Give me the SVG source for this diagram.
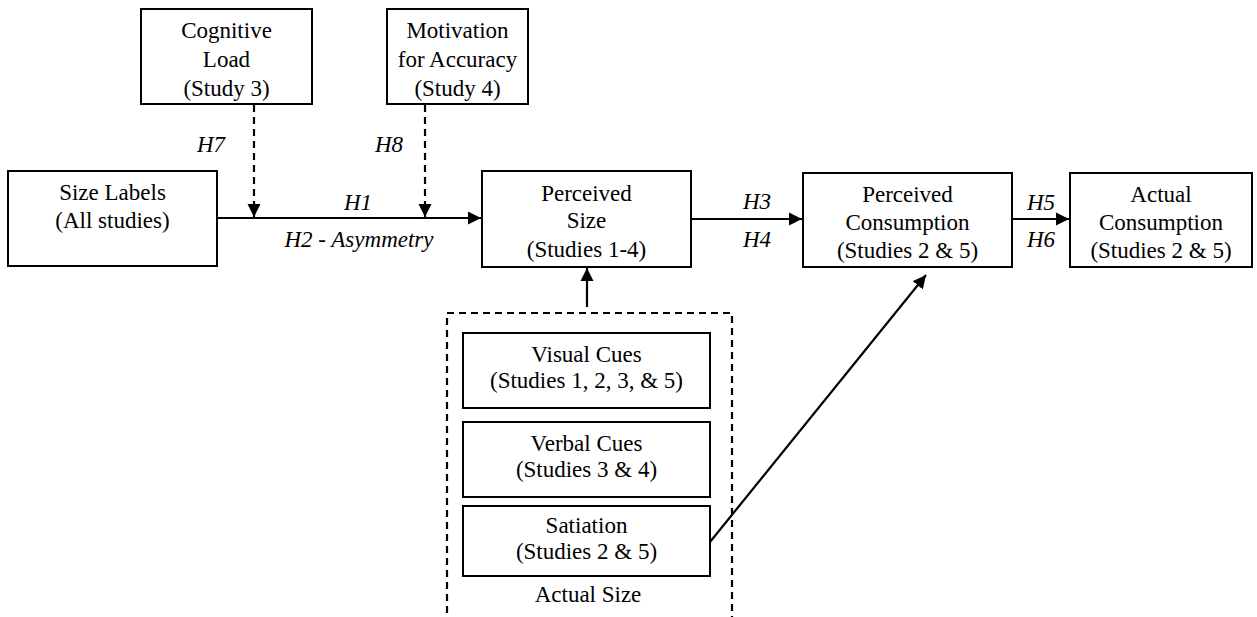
<svg xmlns="http://www.w3.org/2000/svg" width="1257" height="617" viewBox="0 0 1257 617">
<defs>
<style>
.box{fill:#fff;stroke:#000;stroke-width:2}
.t{font-family:"Liberation Serif","Times New Roman",serif;font-size:23px;fill:#000;text-anchor:middle}
.i{font-family:"Liberation Serif","Times New Roman",serif;font-size:23px;font-style:italic;fill:#000;text-anchor:middle}
.ln{stroke:#000;stroke-width:2.2;fill:none}
.dash{stroke:#000;stroke-width:2.2;fill:none;stroke-dasharray:7,5}
</style>
<marker id="ah" viewBox="0 0 10 10" refX="10" refY="5" markerWidth="6" markerHeight="6" markerUnits="strokeWidth" orient="auto">
<path d="M0,0 L10,5 L0,10 z" fill="#000"/>
</marker>
</defs>
<rect width="1257" height="617" fill="#fff"/>
<g id="connectors">
<line class="ln" x1="217" y1="218" x2="481" y2="218" marker-end="url(#ah)"/>
<line class="dash" x1="254" y1="105" x2="254" y2="217" marker-end="url(#ah)"/>
<line class="dash" x1="425" y1="105" x2="425" y2="217" marker-end="url(#ah)"/>
<line class="ln" x1="691" y1="219" x2="802" y2="219" marker-end="url(#ah)"/>
<line class="ln" x1="1012" y1="219" x2="1069" y2="219" marker-end="url(#ah)"/>
<line class="ln" x1="587" y1="307" x2="587" y2="268" marker-end="url(#ah)"/>
<line class="ln" x1="710" y1="542" x2="926" y2="275" marker-end="url(#ah)"/>
<text class="i" x="211" y="152">H7</text>
<text class="i" x="389" y="152">H8</text>
<text class="i" x="358" y="210">H1</text>
<text class="i" x="359" y="247">H2 - Asymmetry</text>
<text class="i" x="757" y="209">H3</text>
<text class="i" x="757" y="247">H4</text>
<text class="i" x="1041" y="210">H5</text>
<text class="i" x="1041" y="247">H6</text>
</g>
<g id="cognitive-load">
<rect class="box" x="141" y="9" width="171" height="95"/>
<text class="t" x="226.5" y="38">Cognitive</text>
<text class="t" x="226.5" y="67">Load</text>
<text class="t" x="226.5" y="96">(Study 3)</text>
</g>
<g id="motivation">
<rect class="box" x="387" y="9" width="141" height="95"/>
<text class="t" x="457.5" y="38">Motivation</text>
<text class="t" x="457.5" y="67">for Accuracy</text>
<text class="t" x="457.5" y="96">(Study 4)</text>
</g>
<g id="size-labels">
<rect class="box" x="8" y="171" width="209" height="95"/>
<text class="t" x="112.5" y="200">Size Labels</text>
<text class="t" x="112.5" y="228">(All studies)</text>
</g>
<g id="perceived-size">
<rect class="box" x="482" y="171" width="209" height="96"/>
<text class="t" x="586.5" y="201">Perceived</text>
<text class="t" x="586.5" y="228">Size</text>
<text class="t" x="586.5" y="257">(Studies 1-4)</text>
</g>
<g id="perceived-consumption">
<rect class="box" x="803" y="173" width="209" height="94"/>
<text class="t" x="907.5" y="202">Perceived</text>
<text class="t" x="907.5" y="230">Consumption</text>
<text class="t" x="907.5" y="258">(Studies 2 &amp; 5)</text>
</g>
<g id="actual-consumption">
<rect class="box" x="1070" y="173" width="182" height="94"/>
<text class="t" x="1161" y="202">Actual</text>
<text class="t" x="1161" y="230">Consumption</text>
<text class="t" x="1161" y="258">(Studies 2 &amp; 5)</text>
</g>
<g id="actual-size">
<path class="dash" d="M447,625 L447,313 L732,313 L732,625"/>
<text class="t" x="588" y="602">Actual Size</text>
</g>
<g id="visual-cues">
<rect class="box" x="463" y="333" width="247" height="75"/>
<text class="t" x="586.5" y="362">Visual Cues</text>
<text class="t" x="586.5" y="388">(Studies 1, 2, 3, &amp; 5)</text>
</g>
<g id="verbal-cues">
<rect class="box" x="463" y="422" width="247" height="75"/>
<text class="t" x="586.5" y="451">Verbal Cues</text>
<text class="t" x="586.5" y="477">(Studies 3 &amp; 4)</text>
</g>
<g id="satiation">
<rect class="box" x="463" y="506" width="247" height="70"/>
<text class="t" x="586.5" y="533">Satiation</text>
<text class="t" x="586.5" y="559">(Studies 2 &amp; 5)</text>
</g>
</svg>
